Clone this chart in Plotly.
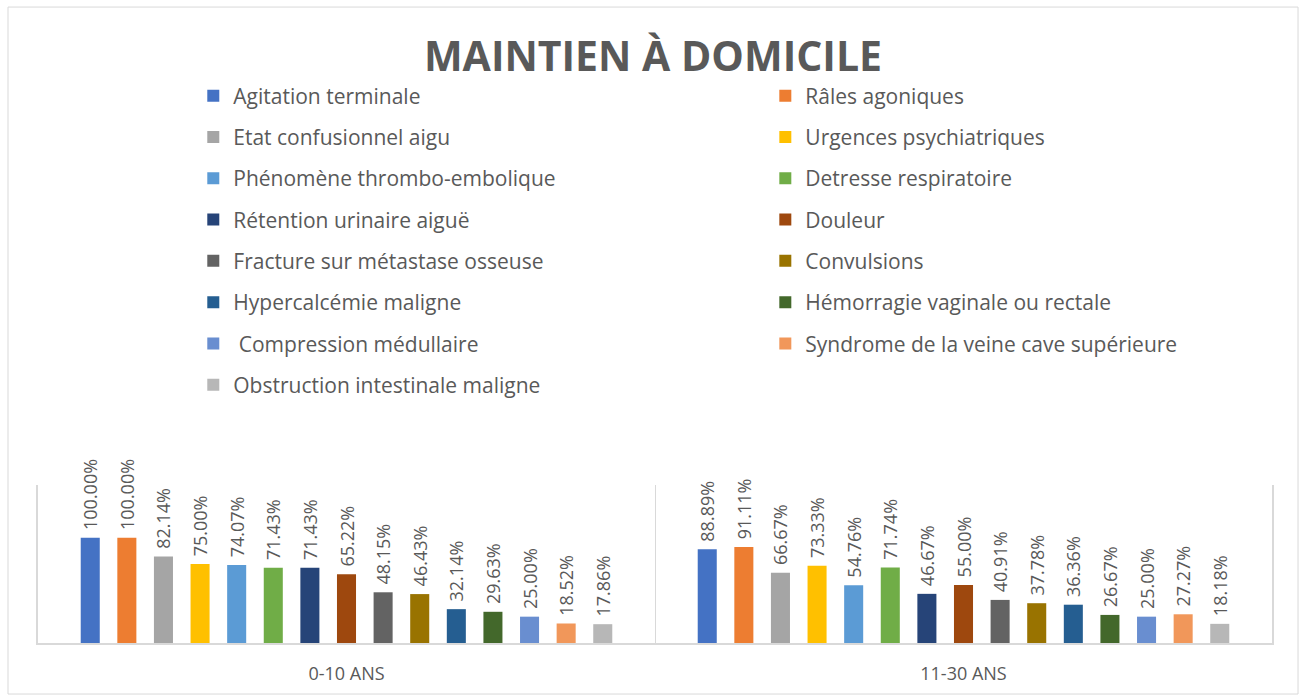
import plotly.graph_objects as go

# tranches d'age (categories)
tranches = ["0-10 ANS", "11-30 ANS"]

# urgences (ordre des series)
urgences = [
    "Agitation terminale",
    "Râles agoniques",
    "Etat confusionnel aigu",
    "Urgences psychiatriques",
    "Phénomène thrombo-embolique",
    "Detresse respiratoire",
    "Rétention urinaire aiguë",
    "Douleur",
    "Fracture sur métastase osseuse",
    "Convulsions",
    "Hypercalcémie maligne",
    "Hémorragie vaginale ou rectale",
    " Compression médullaire",
    "Syndrome de la veine cave supérieure",
    "Obstruction intestinale maligne",
]

# pourcentages de maintien a domicile
pct_0_10 = [100.00, 100.00, 82.14, 75.00, 74.07, 71.43, 71.43, 65.22,
            48.15, 46.43, 32.14, 29.63, 25.00, 18.52, 17.86]
pct_11_30 = [88.89, 91.11, 66.67, 73.33, 54.76, 71.74, 46.67, 55.00,
             40.91, 37.78, 36.36, 26.67, 25.00, 27.27, 18.18]

COULEURS = [
    "#4472C4", "#ED7D31", "#A5A5A5", "#FFC000", "#5B9BD5",
    "#70AD47", "#264478", "#9E480E", "#636363", "#997300",
    "#255E91", "#43682B", "#698ED0", "#F1975A", "#B7B7B7",
]

GRIS = "#595959"
LIGNE = "#D9D9D9"
POLICE = "Open Sans"

fig = go.Figure()

for i, nom in enumerate(urgences):
    fig.add_trace(
        go.Bar(
            name=nom,
            x=tranches,
            y=[pct_0_10[i], pct_11_30[i]],
            marker={"color": COULEURS[i], "line": {"width": 0}},
            # espace insecable devant : petit ecart entre barre et etiquette
            texttemplate="\u00a0%{y:.2f}%",
            textposition="outside",
            textangle=-90,
            constraintext="none",
            cliponaxis=False,
            textfont={"family": POLICE, "size": 18, "color": GRIS},
            legendgroup=f"g{i}",
            legend="legend" if i % 2 == 0 else "legend2",
            hovertemplate="%{x}<br>" + nom + ": %{y:.2f}%<extra></extra>",
        )
    )

legende = {
    "orientation": "v",
    "xref": "container",
    "yref": "container",
    "xanchor": "left",
    "yanchor": "top",
    "y": 0.892,
    "font": {"family": POLICE, "size": 21, "color": GRIS},
    "tracegroupgap": 11,
    "bgcolor": "rgba(0,0,0,0)",
}

fig.update_layout(
    width=1306,
    height=699,
    template="plotly_white",
    paper_bgcolor="white",
    plot_bgcolor="white",
    barmode="group",
    bargap=0.11,
    bargroupgap=0.48,
    margin={"l": 38, "r": 34, "t": 485, "b": 56, "autoexpand": False},
    title={
        "text": "<b>MAINTIEN À DOMICILE</b>",
        "x": 0.5,
        "xanchor": "center",
        "yref": "container",
        "y": 0.9195,
        "yanchor": "middle",
        "font": {"family": POLICE, "size": 41, "color": GRIS},
    },
    legend={**legende, "x": 0.148},
    legend2={**legende, "x": 0.586},
    xaxis={
        "type": "category",
        "tickson": "boundaries",
        "showgrid": True,
        "gridcolor": LIGNE,
        "showline": True,
        "linecolor": LIGNE,
        "linewidth": 1.5,
        "ticks": "",
        "ticklabelstandoff": 14,
        "tickfont": {"family": POLICE, "size": 18, "color": GRIS},
        "zeroline": False,
    },
    yaxis={
        "range": [0, 150],
        "showgrid": False,
        "zeroline": False,
        "showticklabels": False,
        "showline": True,
        "mirror": True,
        "linecolor": LIGNE,
        "linewidth": 1.5,
        "ticks": "",
    },
    shapes=[
        {
            "type": "rect",
            "xref": "paper",
            "yref": "paper",
            "x0": -0.0243,
            "x1": 1.0211,
            "y0": -0.323,
            "y1": 4.025,
            "line": {"color": LIGNE, "width": 1},
            "layer": "below",
        }
    ],
)

# la page html garde sinon une marge de 8px autour du graphique
fig.write_html(
    "out.html",
    config={"displayModeBar": False},
    post_script="document.body.style.margin = '0';",
)
